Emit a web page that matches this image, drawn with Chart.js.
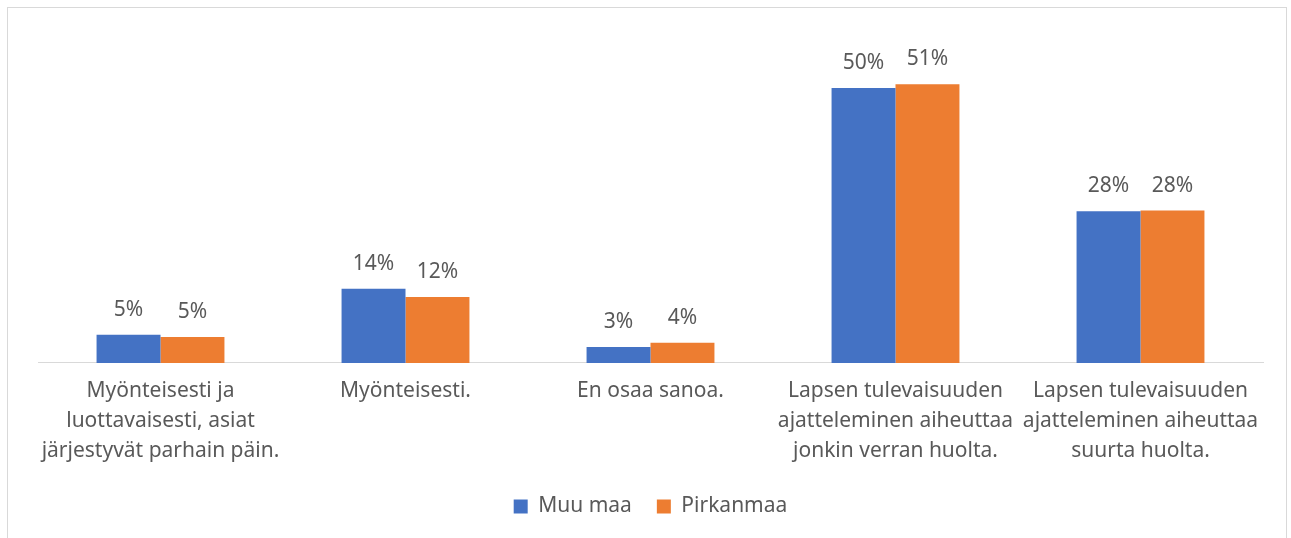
<!DOCTYPE html>
<html>
<head>
<meta charset="utf-8">
<script src="https://cdn.jsdelivr.net/npm/chart.js@4"></script>
<style>
  html, body { margin: 0; padding: 0; background: #fff; }
  .frame { position: absolute; left: 7px; top: 7px; width: 1278px; height: 540px; border: 1px solid #d9d9d9; }
  .chart-container { position: absolute; left: 0; top: 0; width: 1291px; height: 538px; }
</style>
</head>
<body>
<div class="frame"></div>
<div class="chart-container">
  <canvas id="chart" width="1291" height="538"></canvas>
</div>
<script>
const categories = [
  ['Myönteisesti ja', 'luottavaisesti, asiat', 'järjestyvät parhain päin.'],
  ['Myönteisesti.'],
  ['En osaa sanoa.'],
  ['Lapsen tulevaisuuden', 'ajatteleminen aiheuttaa', 'jonkin verran huolta.'],
  ['Lapsen tulevaisuuden', 'ajatteleminen aiheuttaa', 'suurta huolta.']
];
const muuMaa = [5.1, 13.5, 2.9, 50, 27.6];
const pirkanmaa = [4.7, 12.0, 3.65, 50.7, 27.7];

const FONT = '"Noto Sans", sans-serif';
const TEXT = '#595959';

// Draws the percentage above every bar
const barLabels = {
  id: 'barLabels',
  afterDatasetsDraw(chart) {
    const ctx = chart.ctx;
    ctx.save();
    ctx.font = '21px ' + FONT;
    ctx.fillStyle = TEXT;
    ctx.textAlign = 'center';
    ctx.textBaseline = 'middle';
    chart.data.datasets.forEach((ds, i) => {
      chart.getDatasetMeta(i).data.forEach((bar, j) => {
        ctx.fillText(Math.round(ds.data[j]) + '%', bar.x, bar.y - 25);
      });
    });
    ctx.restore();
  }
};

new Chart(document.getElementById('chart').getContext('2d'), {
  type: 'bar',
  data: {
    labels: categories,
    datasets: [
      { label: 'Muu maa', data: muuMaa, backgroundColor: '#4472C4', barPercentage: 1, categoryPercentage: 0.522 },
      { label: 'Pirkanmaa', data: pirkanmaa, backgroundColor: '#ED7D31', barPercentage: 1, categoryPercentage: 0.522 }
    ]
  },
  options: {
    responsive: false,
    animation: false,
    layout: { padding: { left: 38, right: 28, top: 33, bottom: 11 } },
    plugins: {
      legend: {
        position: 'bottom',
        labels: { boxWidth: 14, boxHeight: 14, padding: 25, color: TEXT, font: { family: FONT, size: 21 } }
      },
      tooltip: { enabled: false }
    },
    scales: {
      x: {
        grid: { display: false },
        border: { color: '#d9d9d9', width: 1 },
        ticks: { color: TEXT, font: { family: FONT, size: 21, lineHeight: 1.43 }, padding: 5, maxRotation: 0, autoSkip: false }
      },
      y: { display: false, min: 0, max: 60 }
    }
  },
  plugins: [barLabels]
});
</script>
</body>
</html>
